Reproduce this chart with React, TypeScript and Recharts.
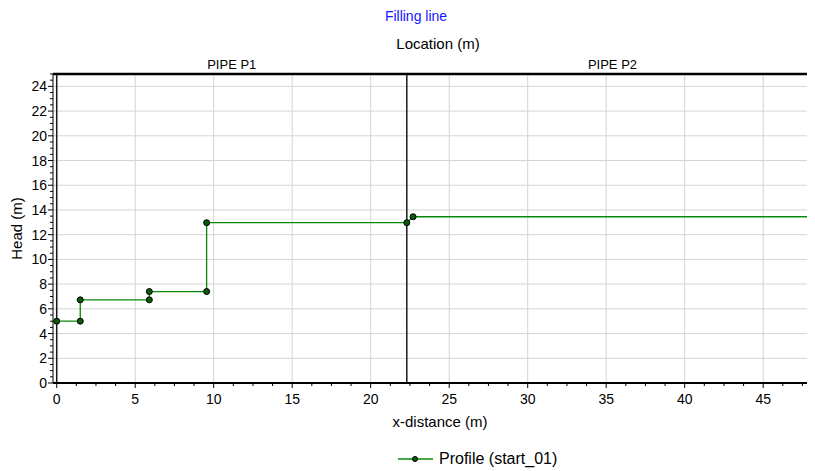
import React from "react"
import {
  ComposedChart,
  Line,
  XAxis,
  YAxis,
  CartesianGrid,
  ReferenceLine,
  ReferenceArea,
  Legend,
} from "recharts"

// profile points (last point runs past the right edge)
const xDistance = [0, 1.5, 1.5, 5.9, 5.9, 9.55, 9.55, 22.3, 22.7, 50]
const headValues = [5, 5, 6.73, 6.73, 7.4, 7.4, 12.97, 12.97, 13.45, 13.45]

const xMajorTicks = [0, 5, 10, 15, 20, 25, 30, 35, 40, 45]
const yMajorTicks = [0, 2, 4, 6, 8, 10, 12, 14, 16, 18, 20, 22, 24]

const pipeNames = ["PIPE P1", "PIPE P2"]
const pipeStart = [0, 22.3]
const pipeEnd = [22.3, 48.5]

const seriesName = "Profile (start_01)"

const X_DOMAIN: [number, number] = [-0.236, 48.3]
const Y_DOMAIN: [number, number] = [0, 25]

const xMinorTicks = Array.from({ length: 39 }, (_, i) => i * 1.25)
const yMinorTicks = Array.from({ length: 51 }, (_, i) => i * 0.5)

const data = xDistance.map((x, i) => ({ x, head: headValues[i] }))

const FONT = '"Liberation Sans", Arial, sans-serif'
const LINE_GREEN = "#078a07"

function XTick(props: any) {
  const { x, y, payload } = props
  const major = xMajorTicks.includes(payload.value)
  return (
    <g>
      <line x1={x} x2={x} y1={y} y2={y + (major ? 5 : 3)} stroke="#000" />
      {major && (
        <text x={x} y={y + 21} textAnchor="middle" fontSize={14} fill="#000">
          {payload.value}
        </text>
      )}
    </g>
  )
}

function YTick(props: any) {
  const { x, y, payload } = props
  const major = yMajorTicks.includes(payload.value)
  return (
    <g>
      <line x1={x} x2={x - (major ? 5 : 3)} y1={y} y2={y} stroke="#000" />
      {major && (
        <text x={x - 6} y={y + 5} textAnchor="end" fontSize={14} fill="#000">
          {payload.value}
        </text>
      )}
    </g>
  )
}

function LegendContent(props: any) {
  const name = props.payload?.[0]?.value ?? seriesName
  return (
    <div
      style={{
        height: 38,
        boxSizing: "border-box",
        paddingTop: 13,
        paddingLeft: 398,
        display: "flex",
        alignItems: "center",
        fontFamily: FONT,
      }}
    >
      <svg width={36} height={10}>
        <line x1={0} x2={35} y1={5} y2={5} stroke={LINE_GREEN} strokeWidth={1.5} />
        <circle cx={17} cy={5} r={2.5} fill="#0a5a0a" stroke="#000" />
      </svg>
      <span style={{ marginLeft: 5, fontSize: 16, color: "#000" }}>{name}</span>
    </div>
  )
}

export default function App() {
  return (
    <div
      style={{
        position: "relative",
        width: 815,
        height: 471,
        margin: "-8px 0 0 -8px",
        fontFamily: FONT,
        background: "#fff",
      }}
    >
      <div
        style={{
          position: "absolute",
          top: 8,
          left: 0,
          width: 832,
          textAlign: "center",
          fontSize: 14,
          lineHeight: "17px",
          color: "#1414ff",
        }}
      >
        Filling line
      </div>
      <ComposedChart
        width={815}
        height={471}
        data={data}
        margin={{ top: 34, right: 0, bottom: 0, left: 0 }}
      >
        <CartesianGrid
          stroke="#d4d4d4"
          verticalValues={xMajorTicks}
          horizontalValues={yMajorTicks}
        />
        <XAxis
          dataKey="x"
          type="number"
          domain={X_DOMAIN}
          allowDataOverflow
          ticks={xMinorTicks}
          interval={0}
          tick={<XTick />}
          tickLine={false}
          tickSize={0}
          tickMargin={0}
          height={50}
          axisLine={{ stroke: "#000", strokeWidth: 2 }}
          label={{
            value: "x-distance (m)",
            position: "insideBottom",
            offset: 6,
            dx: 6,
            fill: "#000",
            fontSize: 15,
          }}
        />
        <XAxis
          xAxisId="top"
          orientation="top"
          dataKey="x"
          type="number"
          domain={X_DOMAIN}
          allowDataOverflow
          tick={false}
          tickLine={false}
          height={40}
          axisLine={{ stroke: "#000", strokeWidth: 2.5 }}
          label={{
            value: "Location (m)",
            position: "insideTop",
            offset: 4,
            dx: 4,
            fill: "#000",
            fontSize: 15,
          }}
        />
        <YAxis
          type="number"
          domain={Y_DOMAIN}
          allowDataOverflow
          ticks={yMinorTicks}
          interval={0}
          tick={<YTick />}
          tickLine={false}
          tickSize={0}
          tickMargin={0}
          width={53}
          axisLine={{ stroke: "#000" }}
          label={{
            value: "Head (m)",
            angle: -90,
            position: "insideLeft",
            offset: 17,
            fill: "#000",
            fontSize: 15,
            style: { textAnchor: "middle" },
          }}
        />
        {pipeNames.map((name, i) => (
          <ReferenceArea
            key={name}
            x1={pipeStart[i]}
            x2={pipeEnd[i]}
            fill="none"
            fillOpacity={0}
            stroke="none"
            ifOverflow="visible"
            label={{ value: name, position: "top", offset: 5, fill: "#000", fontSize: 13 }}
          />
        ))}
        {pipeStart.map((s) => (
          <ReferenceLine key={s} x={s} stroke="#1a1a1a" strokeWidth={1.5} />
        ))}
        <Line
          type="linear"
          dataKey="head"
          name={seriesName}
          stroke={LINE_GREEN}
          strokeWidth={1.3}
          dot={{ r: 3, fill: "#0a5a0a", stroke: "#000", strokeWidth: 1 }}
          activeDot={false}
          isAnimationActive={false}
        />
        <Legend
          verticalAlign="bottom"
          content={<LegendContent />}
          wrapperStyle={{ left: 0, width: 815, bottom: 0 }}
        />
      </ComposedChart>
    </div>
  )
}
